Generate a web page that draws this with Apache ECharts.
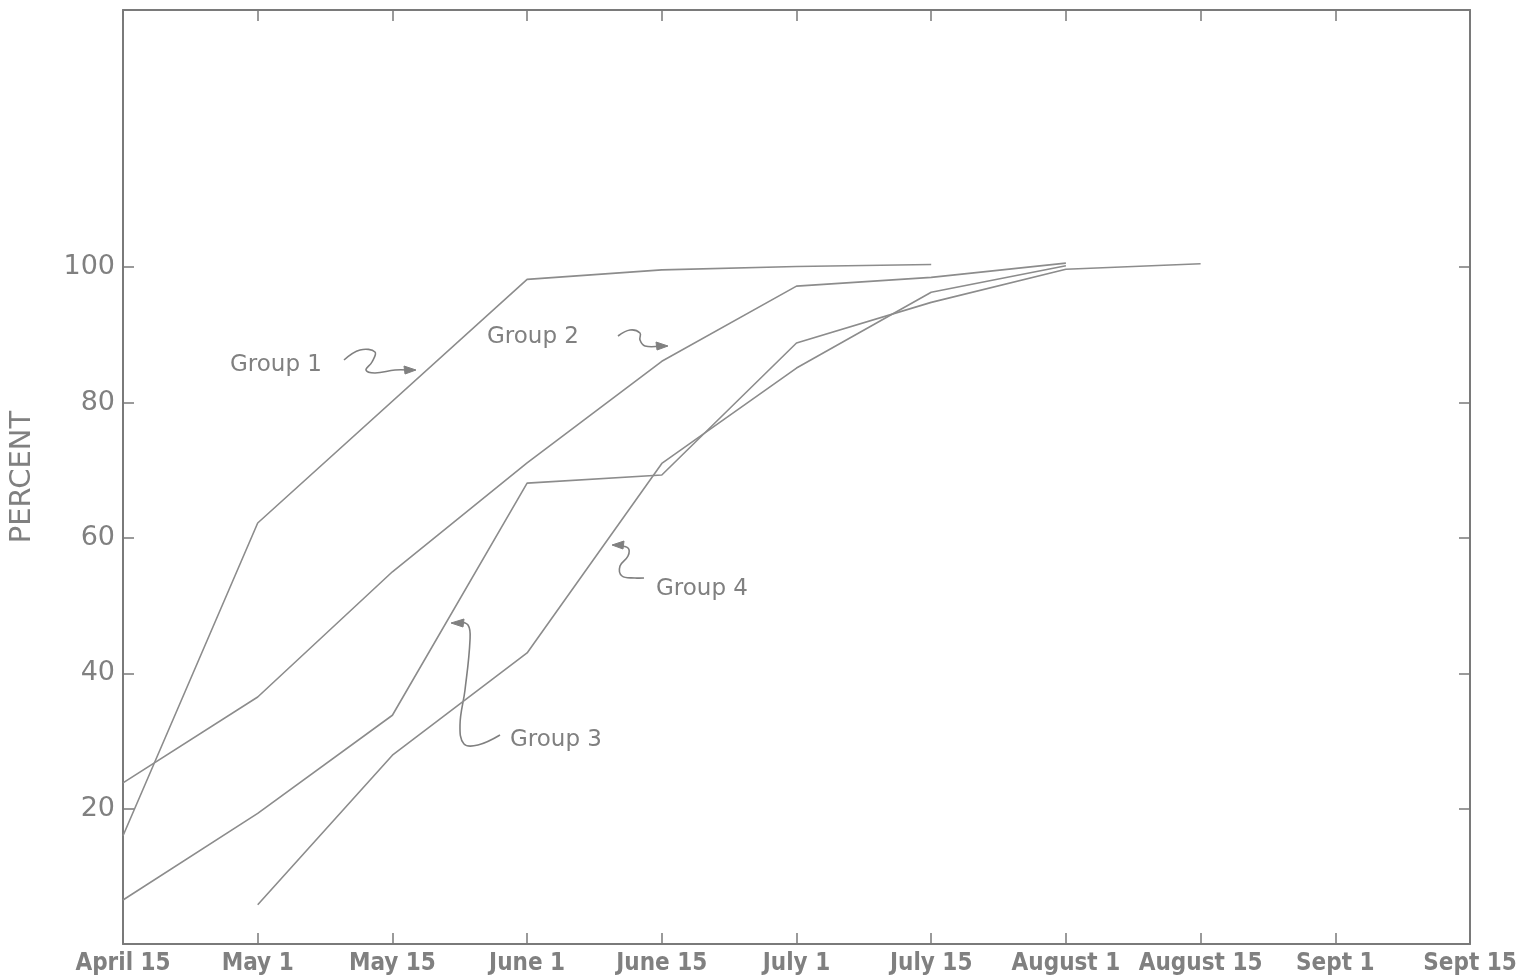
<!DOCTYPE html>
<html>
<head>
<meta charset="utf-8">
<script src="https://cdn.jsdelivr.net/npm/echarts@6/dist/echarts.min.js"></script>
<style>
html,body{margin:0;padding:0;background:#fff;}
#chart{width:1527px;height:980px;}
</style>
</head>
<body>
<div id="chart"></div>
<script>
const categories = ['April 15','May 1','May 15','June 1','June 15','July 1','July 15','August 1','August 15','Sept 1','Sept 15'];
const yTicks = [20, 40, 60, 80, 100];
const group1 = [16.0, 62.2, null, 98.2, 99.6, 100.1, 100.4, null, null, null, null];
const group2 = [23.8, 36.5, 55.0, 71.1, 86.1, 97.2, 98.5, 100.6, null, null, null];
const group3 = [6.5, 19.3, 33.8, 68.1, 69.3, 88.8, 94.8, 99.7, 100.5, null, null];
const group4 = [null, 5.8, 27.9, 43.0, 71.0, 85.1, 96.3, 100.2, null, null, null];
const seriesNames = ['Group 1','Group 2','Group 3','Group 4'];

const chart = echarts.init(document.getElementById('chart'));
const lineColor = '#8c8c8c';
const axisColor = '#7a7a7a';
const textColor = '#808080';

function mkSeries(name, data){
  return {name, type:'line', data, connectNulls:true, symbol:'none', silent:true,
    lineStyle:{color:lineColor, width:1.6}};
}

const yCommon = {
  type:'value', min:0, max:138, interval:20,
  splitLine:{show:false},
  axisLine:{show:true, onZero:false, lineStyle:{color:axisColor, width:2}},
  axisTick:{show:true, inside:true, length:11, customValues:yTicks, lineStyle:{color:axisColor, width:1.5}},
};

const arrowStyle = {stroke:'#808080', lineWidth:1.6, fill:null};
const headStyle = {fill:'#808080', stroke:'#808080', lineWidth:1};
const labelFont = '23px "DejaVu Sans", sans-serif';

chart.setOption({
  animation:false,
  backgroundColor:'#ffffff',
  grid:{left:121, right:57, top:10, bottom:36, containLabel:false},
  xAxis:[{
    type:'category', data:categories, boundaryGap:false, position:'bottom',
    axisLine:{show:true, onZero:false, lineStyle:{color:axisColor, width:2}},
    axisTick:{show:true, inside:true, length:11, alignWithLabel:true, lineStyle:{color:axisColor, width:1.5}},
    axisLabel:{color:textColor, fontFamily:'"DejaVu Sans Condensed","DejaVu Sans",sans-serif', fontWeight:'bold', fontSize:24, margin:8, interval:0},
    splitLine:{show:false}
  },{
    type:'category', data:categories, boundaryGap:false, position:'top',
    axisLine:{show:true, onZero:false, lineStyle:{color:axisColor, width:2}},
    axisTick:{show:true, inside:true, length:11, lineStyle:{color:axisColor, width:1.5}},
    axisLabel:{show:false}, splitLine:{show:false}
  }],
  yAxis:[Object.assign({}, yCommon, {
    position:'left',
    name:'PERCENT', nameLocation:'middle', nameGap:86, nameRotate:90,
    nameTextStyle:{color:textColor, fontFamily:'"DejaVu Sans",sans-serif', fontSize:29, fontWeight:'normal'},
    axisLabel:{show:true, customValues:yTicks, color:textColor, fontFamily:'"DejaVu Sans",sans-serif', fontSize:27, margin:8}
  }), Object.assign({}, yCommon, {
    position:'right', axisLabel:{show:false}
  })],
  series:[mkSeries(seriesNames[0], group1), mkSeries(seriesNames[1], group2), mkSeries(seriesNames[2], group3), mkSeries(seriesNames[3], group4)],
  graphic:[
    {type:'text', left:230, top:354, style:{text:'Group 1', fill:textColor, font:labelFont}},
    {type:'text', left:487, top:326, style:{text:'Group 2', fill:textColor, font:labelFont}},
    {type:'text', left:510, top:729, style:{text:'Group 3', fill:textColor, font:labelFont}},
    {type:'text', left:656, top:578, style:{text:'Group 4', fill:textColor, font:labelFont}},
    {type:'polyline', shape:{points:[[344,360],[360,350],[375,352],[372,362],[366,370],[375,373],[395,370],[408,370]], smooth:0.4}, style:arrowStyle},
    {type:'polygon', shape:{points:[[416,370],[404,366],[405,374]]}, style:headStyle},
    {type:'polyline', shape:{points:[[618,336],[630,330],[640,333],[640,340],[645,346],[660,346]], smooth:0.4}, style:arrowStyle},
    {type:'polygon', shape:{points:[[668,346],[656,342],[657,350]]}, style:headStyle},
    {type:'polyline', shape:{points:[[458,622],[468,625],[470,640],[465,690],[460,725],[464,744],[478,745],[500,735]], smooth:0.4}, style:arrowStyle},
    {type:'polygon', shape:{points:[[451,623],[464,619],[463,627]]}, style:headStyle},
    {type:'polyline', shape:{points:[[618,546],[628,548],[628,556],[620,566],[622,576],[635,578],[644,578]], smooth:0.4}, style:arrowStyle},
    {type:'polygon', shape:{points:[[612,545],[624,541],[623,549]]}, style:headStyle}
  ]
});
</script>
</body>
</html>
